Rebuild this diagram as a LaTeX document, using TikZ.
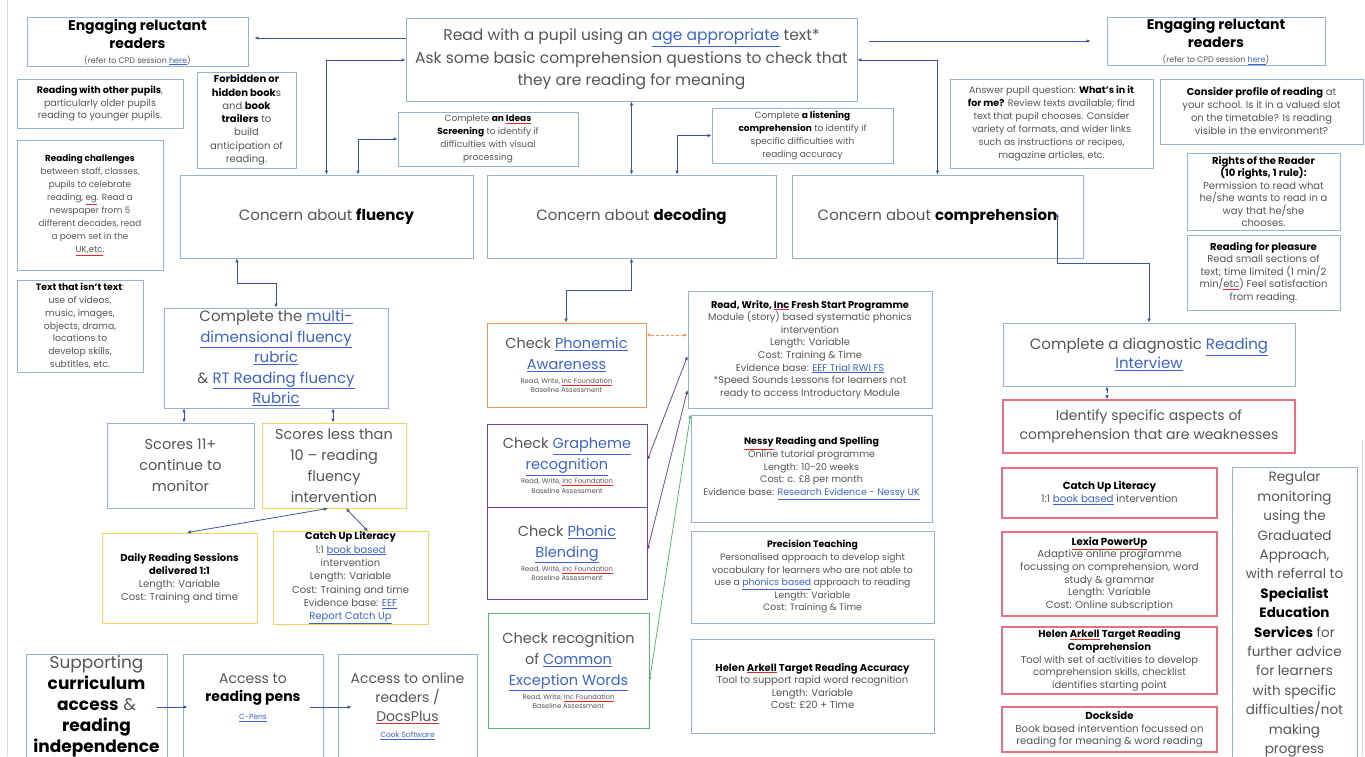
\documentclass[tikz,border=0pt]{standalone}
\usepackage{fontspec}
\setmainfont{Poppins}
\usetikzlibrary{arrows.meta}
\definecolor{bxblue}{RGB}{150,176,214}
\definecolor{ylw}{RGB}{242,212,100}
\definecolor{org}{RGB}{236,150,90}
\definecolor{prp}{RGB}{110,70,160}
\definecolor{grn}{RGB}{90,185,110}
\definecolor{rdb}{RGB}{232,110,130}
\definecolor{connc}{RGB}{60,85,160}
\definecolor{txt}{RGB}{85,85,85}
\definecolor{linkc}{RGB}{60,100,200}
\definecolor{sqc}{RGB}{220,40,40}
\newcommand\fs[2]{\fontsize{#1}{#2}\selectfont}
\newcommand\lnk[1]{{\color{linkc}\underline{#1}}}
\newcommand\sq[1]{{\colorlet{sqsave}{.}\color{sqc}\underline{\color{sqsave}#1}}}
\newcommand\B[1]{{\bfseries\color{black}#1}}
\tikzset{
  box/.style={draw=bxblue, line width=0.9pt, align=center, inner xsep=3pt, inner ysep=1pt, text=txt},
  ybox/.style={draw=ylw},
  obox/.style={draw=org},
  pbox/.style={draw=prp},
  gbox/.style={draw=grn},
  rbox/.style={draw=rdb, line width=1.1pt},
  txtn/.style={align=center, inner sep=0pt, text=txt},
  conn/.style={draw=connc, line width=0.8pt},
}
\newcommand\bx[7]{%
\pgfmathsetmacro\bxw{#4-#2}%
\pgfmathsetmacro\bxh{#5-#3}%
\node[box,minimum width=\bxw pt,minimum height=\bxh pt,#6] (#1) at ({(#2+#4)/2},{(#3+#5)/2}) {#7};}
\newcommand\rwi{\\[-7pt]{\fs{6.8}{9}Read, Write, \sq{Inc Foundation}}\\[-11.5pt]{\fs{6.8}{9}Baseline Assessment}}
\begin{document}
\begin{tikzpicture}[x=1pt,y=-1pt,>={Latex[length=4pt,width=3.6pt]}]
\useasboundingbox (0,0) rectangle (1365,756);
\clip (0,0) rectangle (1365,756);
\fill[white] (0,0) rectangle (1365,756);
\draw[black!15, line width=1pt] (7,0) -- (7,756);
\draw[black!15, line width=1pt] (1362,440) -- (1362,756);

% top row
\bx{engL}{27}{18}{248}{66}{font=\fs{14}{18}}{\B{Engaging reluctant}\\\B{readers}\\[-3pt]{\fs{8}{10}(refer to CPD session \lnk{here})}}
\bx{top}{406}{18}{857}{101}{font=\fs{15.5}{22.5}}{Read with a pupil using an \lnk{age appropriate} text*\\Ask some basic comprehension questions to check that\\they are reading for meaning}
\bx{engR}{1107}{18}{1325}{65}{font=\fs{14}{18}}{\B{Engaging reluctant}\\\B{readers}\\[-3pt]{\fs{8}{10}(refer to CPD session \lnk{here})}}

% left column of ideas
\bx{withp}{17}{79}{183}{128}{font=\fs{9.5}{12.5}}{\B{Reading with other pupils},\\particularly older pupils\\reading to younger pupils.}
\bx{forbid}{197}{72}{296}{168}{font=\fs{10}{13.3}}{\B{Forbidden or}\\\B{hidden book}s\\and \B{book}\\\B{trailers} to\\build\\anticipation of\\reading.}
\bx{chall}{17}{140}{163}{270}{font=\fs{8.8}{13}}{\B{Reading challenges}\\between staff, classes,\\pupils to celebrate\\reading, \sq{eg}. Read a\\newspaper from 5\\different decades, read\\a poem set in the\\\sq{UK,etc}.}
\bx{textnot}{17}{280}{143}{372}{font=\fs{9.3}{12.8}}{\B{Text that isn't text}:\\use of videos,\\music, images,\\objects, drama,\\locations to\\develop skills,\\subtitles, etc.}

% screening boxes
\bx{ideas}{398}{112}{578}{166}{font=\fs{9}{13}}{Complete \B{an \sq{Ideas}}\\\B{Screening} to identify if\\difficulties with visual\\processing}
\bx{listen}{712}{108}{893}{163}{font=\fs{9}{13}}{Complete \B{a listening}\\\B{comprehension} to identify if\\specific difficulties with\\reading accuracy}

% right column of ideas
\bx{answer}{950}{79}{1153}{168}{font=\fs{9.5}{13}}{Answer pupil question: \B{What's in it}\\\B{for me?} Review texts available; find\\text that pupil chooses. Consider\\variety of formats, and wider links\\such as instructions or recipes,\\magazine articles, etc.}
\bx{profile}{1160}{79}{1363}{144}{font=\fs{10}{13}}{\B{Consider profile of reading} at\\your school. Is it in a valued slot\\on the timetable? Is reading\\visible in the environment?}
\bx{rights}{1187}{153}{1340}{230}{font=\fs{10}{12.5},inner ysep=0pt}{\B{Rights of the Reader}\\\B{(10 rights, 1 rule):}\\Permission to read what\\he/she wants to read in a\\way that he/she\\chooses.}
\bx{pleasure}{1187}{235}{1340}{310}{font=\fs{10}{12.5}}{\B{Reading for pleasure}\\Read small sections of\\text; time limited (1 min/2\\min/\sq{etc}) Feel satisfaction\\from reading.}

% concerns
\bx{fluency}{180}{175}{473}{258}{font=\fs{15}{19}}{Concern about \B{fluency}}
\bx{decoding}{487}{175}{776}{258}{font=\fs{15}{19}}{Concern about \B{decoding}}
\bx{compr}{792}{175}{1083}{258}{font=\fs{15}{19}}{Concern about \B{comprehension}}

% fluency branch
\bx{multi}{164}{308}{388}{408}{font=\fs{15}{20.5},inner ysep=0pt}{Complete the \lnk{multi-}\\\lnk{dimensional fluency}\\\lnk{rubric}\\\& \lnk{RT Reading fluency}\\\lnk{Rubric}}
\bx{s11}{107}{423}{254}{508}{font=\fs{14.5}{21}}{Scores 11+\\continue to\\monitor}
\bx{sless}{262}{423}{406}{508}{ybox,font=\fs{14.5}{21},inner ysep=0pt}{Scores less than\\10 – reading\\fluency\\intervention}
\bx{daily}{102}{533}{257}{623}{ybox,font=\fs{10}{13}}{\B{Daily Reading Sessions}\\\B{delivered 1:1}\\Length: Variable\\Cost: Training and time}
\bx{catchF}{273}{533}{428}{623}{ybox,font=\fs{10}{13.3},inner ysep=0pt}{\B{Catch Up Literacy}\\1:1 \lnk{book based}\\intervention\\Length: Variable\\Cost: Training and time\\Evidence base: \lnk{EEF}\\\lnk{Report Catch Up}}

% bottom row
\bx{supp}{26}{654}{167}{758}{}{}
\node[txtn,font=\fs{17}{21}] (supptxt) at (96.5,706) {Supporting\\\B{curriculum}\\\B{access} \&\\\B{reading}\\\B{independence}};
\bx{pens}{183}{654}{323}{758}{}{}
\node[txtn,font=\fs{14}{18}] (penstxt) at (253,698) {Access to\\\B{reading pens}\\{\fs{7.5}{9}\lnk{C-Pens}}};
\bx{online}{338}{654}{477}{758}{}{}
\node[txtn,font=\fs{14}{19}] (onlinetxt) at (407.5,706) {Access to online\\readers /\\\sq{DocsPlus}\\[-3pt]{\fs{7.5}{9}\lnk{Cook Software}}};

% decoding branch
\bx{phonemic}{487}{323}{646}{407}{obox,font=\fs{14.5}{21}}{Check \lnk{Phonemic}\\\lnk{Awareness}\rwi}
\bx{grapheme}{487}{424}{647}{507}{pbox,font=\fs{14.5}{21}}{Check \lnk{Grapheme}\\\lnk{recognition}\rwi}
\bx{blending}{487}{507}{647}{599}{pbox,font=\fs{14.5}{21}}{Check \lnk{Phonic}\\\lnk{Blending}\rwi}
\bx{cew}{488}{613}{649}{728}{gbox,font=\fs{14.5}{21}}{Check recognition\\of \lnk{Common}\\\lnk{Exception Words}\rwi}

\bx{fresh}{688}{291}{932}{408}{font=\fs{9.8}{12.6}}{\B{Read, Write, \sq{Inc} Fresh Start Programme}\\Module (story) based systematic phonics\\intervention\\Length: Variable\\Cost: Training \& Time\\Evidence base: \lnk{EEF Trial RWI FS}\\*Speed Sounds Lessons for learners not\\ready to access Introductory Module}
\bx{nessy}{691}{415}{932}{522}{font=\fs{9.5}{12.6}}{\B{\sq{Nessy} Reading and Spelling}\\Online tutorial programme\\Length: 10-20 weeks\\Cost: c. £8 per month\\Evidence base: \lnk{Research Evidence - Nessy UK}}
\bx{prec}{691}{531}{934}{623}{font=\fs{9.3}{12.6}}{\B{Precision Teaching}\\Personalised approach to develop sight\\vocabulary for learners who are not able to\\use a \lnk{phonics based} approach to reading\\Length: Variable\\Cost: Training \& Time}
\bx{arkA}{691}{639}{934}{733}{font=\fs{10}{12.6}}{\B{Helen \sq{Arkell} Target Reading Accuracy}\\Tool to support rapid word recognition\\Length: Variable\\Cost: £20 + Time}

% comprehension branch
\bx{interview}{1003}{323}{1295}{386}{font=\fs{15}{19}}{Complete a diagnostic \lnk{Reading}\\\lnk{Interview}}
\bx{identify}{1003}{400}{1295}{453}{rbox,font=\fs{14}{19}}{Identify specific aspects of\\comprehension that are weaknesses}
\bx{catchC}{1002}{468}{1217}{518}{rbox,font=\fs{10.3}{12.6}}{\B{Catch Up Literacy}\\1:1 \lnk{book based} intervention}
\bx{lexia}{1002}{532}{1217}{616}{rbox,font=\fs{10.2}{12.6}}{\B{\sq{Lexia PowerUp}}\\Adaptive online programme\\focussing on comprehension, word\\study \& grammar\\Length: Variable\\Cost: Online subscription}
\bx{arkC}{1002}{627}{1217}{694}{rbox,font=\fs{10}{12.6},inner ysep=0pt}{\B{Helen \sq{Arkell} Target Reading}\\\B{Comprehension}\\Tool with set of activities to develop\\comprehension skills, checklist\\identifies starting point}
\bx{dock}{1002}{707}{1217}{752}{rbox,font=\fs{10.2}{12.6}}{\B{Dockside}\\Book based intervention focussed on\\reading for meaning \& word reading}
\bx{regular}{1232}{467}{1357}{762}{}{}
\node[txtn,font=\fs{13.5}{19.4}] (regtxt) at (1294.5,614.5) {Regular\\monitoring\\using the\\Graduated\\Approach,\\with referral to\\\B{Specialist}\\\B{Education}\\\B{Services} for\\further advice\\for learners\\with specific\\difficulties/not\\making\\progress};

% connectors
\draw[conn,->,shorten >=6pt] (top.west|-0,38) -- (engL.east|-0,38);
\draw[conn,->,shorten <=12pt,shorten >=16pt] (top.east|-0,41) -- (engR.west|-0,41);
\draw[conn,<->] (fluency.north) |- (top.west|-0,60);
\draw[conn,<->] (ideas.west) -| (fluency.north-|358,0);
\draw[conn,<->] (top.south-|decoding.north) -- (decoding.north);
\draw[conn,<->] (listen.west) -| (decoding.north-|677,0);
\draw[conn,<->] (top.east|-0,60) -| (compr.north);
\draw[conn,<->] (fluency.south-|237,0) -- (237,283) -| (multi.north-|276,0);
\draw[conn,<->] (multi.south-|184,0) -- (s11.north-|184,0);
\draw[conn,<->] (multi.south-|333,0) -- (sless.north-|333,0);
\draw[conn,<->] (sless.south-|328,0) -- (daily.north-|187,0);
\draw[conn,<->] (sless.south-|346,0) -- (catchF.north-|368,0);
\draw[conn,<->] (decoding.south) -- (decoding.south|-0,290) -| (phonemic.north-|566,0);
\draw[org,densely dashed,line width=0.8pt,<->] (fresh.west|-0,335) -- (phonemic.east|-0,335);
\draw[prp,line width=0.8pt,<->] (fresh.west|-0,356) -- (grapheme.east|-0,460);
\draw[prp,line width=0.8pt,<->] (fresh.west|-0,390) -- (blending.east|-0,550);
\draw[grn,line width=0.8pt,<->] (nessy.north west) -- (cew.east|-0,681);
\coordinate (cmpA) at (1057,213);
\draw[conn,<->] (cmpA) -- (cmpA|-0,263) -| (interview.north-|1149,0);
\draw[conn,densely dashed,<->] (interview.south-|1107,0) -- (identify.north-|1107,0);
\draw[conn,->,shorten <=-10pt,shorten >=-5pt] (supp.east|-0,707) -- (pens.west|-0,707);
\draw[conn,->,shorten <=-13pt,shorten >=-14pt] (pens.east|-0,707) -- (online.west|-0,707);
\end{tikzpicture}
\end{document}
